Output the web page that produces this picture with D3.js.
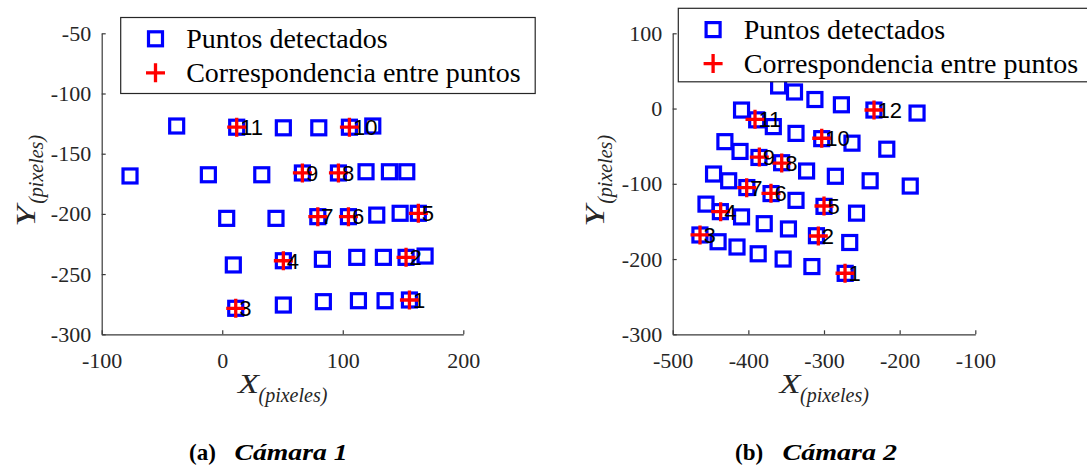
<!DOCTYPE html>
<html>
<head>
<meta charset="utf-8">
<script src="https://cdn.jsdelivr.net/npm/d3@7/dist/d3.min.js"></script>
<style>
  body { margin: 0; background: #fff; }
  svg { display: block; }
</style>
</head>
<body>
<svg id="chart" width="1087" height="469"></svg>
<script>
// ---------------- DATA ----------------
// Cámara 1: detected points
const cam1PointsX = [-37.8, 12.0, 50.7, 80.1, 105.5, 124.9,
  -76.5, -11.5, 32.8, 66.5, 96.4, 119.3, 138.7, 153.1,
  3.7, 44.6, 79.3, 104.7, 128.2, 147.6, 162.7,
  9.2, 50.7, 83.1, 111.6, 133.7, 152.5, 168.3,
  11.2, 50.7, 83.9, 113.0, 135.1, 155.3];
const cam1PointsY = [-127, -128, -128.5, -128.5, -128, -127,
  -168.5, -167.5, -167.5, -166, -166, -165, -165, -165,
  -203.7, -203.7, -202.3, -202.3, -201, -199.5, -199.5,
  -242.4, -238.9, -237.7, -236.1, -236.1, -236.1, -235,
  -278.4, -275.7, -272.9, -272.1, -272.1, -271.5];
// Cámara 1: correspondences
const cam1MatchX = [155.3, 152.5, 11.2, 50.7, 162.7, 104.7, 79.3, 96.4, 66.5, 105.5, 12.0];
const cam1MatchY = [-271.5, -236.1, -278.4, -238.9, -199.5, -202.3, -202.3, -166, -166, -128, -128];
const cam1MatchLabels = ["1","2","3","4","5","6","7","8","9","10","11"];

// Cámara 2: detected points
const cam2PointsX = [-360, -339, -312, -277, -234, -177,
  -409, -389, -367, -337, -303, -263, -217,
  -431, -411, -386, -356, -323, -285, -239, -186,
  -446, -426, -402, -370, -337, -300, -257,
  -456, -437, -409, -379, -347, -310, -266,
  -464, -440, -415, -387, -354, -316, -272];
const cam2PointsY = [30, 22, 12, 5, -2, -6,
  -2, -15, -24, -33, -40, -46, -54,
  -44, -57, -65, -72, -83, -90, -96, -103,
  -87, -96, -105, -113, -122, -130, -139,
  -127, -137, -144, -153, -160, -169, -178,
  -168, -177, -184, -193, -200, -210, -219];
// Cámara 2: correspondences
const cam2MatchX = [-272.2, -307.5, -463.9, -436.6, -300, -370.1, -402.2, -355.9, -385.5, -303, -391.2, -233.9];
const cam2MatchY = [-218.9, -169.4, -168, -137.1, -129.5, -112.6, -105.2, -72.4, -64.5, -39.5, -14.3, -1.9];
const cam2MatchLabels = ["1","2","3","4","5","6","7","8","9","10","11","12"];

// Ticks
const cam1XTicks = [-100, 0, 100, 200];
const cam1XTickLabels = ["-100", "0", "100", "200"];
const cam1YTicks = [-300, -250, -200, -150, -100, -50];
const cam1YTickLabels = ["-300", "-250", "-200", "-150", "-100", "-50"];
const cam2XTicks = [-500, -400, -300, -200, -100];
const cam2XTickLabels = ["-500", "-400", "-300", "-200", "-100"];
const cam2YTicks = [-300, -200, -100, 0, 100];
const cam2YTickLabels = ["-300", "-200", "-100", "0", "100"];

const legendLabels = ["Puntos detectados", "Correspondencia entre puntos"];
const captionTags = ["(a)", "(b)"];
const captionTitles = ["Cámara 1", "Cámara 2"];

// ---------------- DRAW ----------------
const svg = d3.select("#chart");
svg.append("rect").attr("width", 1087).attr("height", 469).attr("fill", "#fff");

const SERIF = "'Liberation Serif','Times New Roman',serif";
const SANS = "'Liberation Sans',Arial,sans-serif";
const AXIS_COLOR = "#3a3a3a";
const BLUE = "#0000ff", RED = "#ff0000";
const SQ = 14, SQW = 3.2, PL = 9.5, PLW = 3.3;

function drawSquare(g, x, y) {
  g.append("rect").attr("x", x - SQ/2).attr("y", y - SQ/2)
    .attr("width", SQ).attr("height", SQ)
    .attr("fill", "none").attr("stroke", BLUE).attr("stroke-width", SQW);
}
function drawPlus(g, x, y) {
  g.append("path").attr("d", `M${x-PL},${y}H${x+PL}M${x},${y-PL}V${y+PL}`)
    .attr("fill", "none").attr("stroke", RED).attr("stroke-width", PLW);
}

function panel(cfg) {
  const x = d3.scaleLinear().domain(cfg.xDomain).range(cfg.xRange);
  const y = d3.scaleLinear().domain(cfg.yDomain).range(cfg.yRange);
  const g = svg.append("g");

  // axes
  const xAxis = d3.axisBottom(x).tickValues(cfg.xTicks)
    .tickFormat((d, i) => cfg.xTickLabels[i]).tickSizeInner(-4).tickSizeOuter(0).tickPadding(18);
  const yAxis = d3.axisLeft(y).tickValues(cfg.yTicks)
    .tickFormat((d, i) => cfg.yTickLabels[i]).tickSizeInner(-4).tickSizeOuter(0).tickPadding(10.5);
  const gx = g.append("g").attr("transform", `translate(0,${cfg.yRange[0]})`).call(xAxis);
  const gy = g.append("g").attr("transform", `translate(${cfg.xRange[0]},0)`).call(yAxis);
  [gx, gy].forEach(a => {
    a.attr("font-family", SERIF).attr("font-size", 22);
    a.selectAll("path, line").attr("stroke", AXIS_COLOR).attr("stroke-width", 1.2);
    a.selectAll("text").attr("fill", "#262626");
  });

  // data
  const marks = g.append("g");
  cfg.px.forEach((vx, i) => drawSquare(marks, x(vx), y(cfg.py[i])));
  cfg.mx.forEach((vx, i) => drawPlus(marks, x(vx), y(cfg.my[i])));
  cfg.mx.forEach((vx, i) => {
    marks.append("text").attr("x", x(vx) + 3.5).attr("y", y(cfg.my[i]) + 7.8)
      .attr("font-family", SANS).attr("font-size", 22).attr("fill", "#000")
      .text(cfg.labels[i]);
  });

  // x label
  const cx = (cfg.xRange[0] + cfg.xRange[1]) / 2;
  const xl = g.append("text").attr("font-family", SERIF).attr("font-style", "italic").attr("fill", "#262626");
  xl.append("tspan").attr("x", cx - 44.5).attr("y", 393.3).attr("font-size", 27)
    .attr("textLength", 21).attr("lengthAdjust", "spacingAndGlyphs").text("X");
  xl.append("tspan").attr("x", cx - 24).attr("y", 401.5).attr("font-size", 20).text("(pixeles)");

  // y label
  const cy = (cfg.yRange[0] + cfg.yRange[1]) / 2;
  const yl = g.append("text").attr("font-family", SERIF).attr("font-style", "italic").attr("fill", "#262626")
    .attr("transform", `translate(${cfg.yLabelX},${cy}) rotate(-90)`);
  yl.append("tspan").attr("x", -43).attr("y", 0).attr("font-size", 27)
    .attr("textLength", 21).attr("lengthAdjust", "spacingAndGlyphs").text("Y");
  yl.append("tspan").attr("x", -20).attr("y", 7.5).attr("font-size", 20).text("(pixeles)");

  // legend
  const lg = g.append("g");
  lg.append("rect").attr("x", cfg.leg.x).attr("y", cfg.leg.y).attr("width", cfg.leg.w).attr("height", cfg.leg.h)
    .attr("fill", "#fff").attr("stroke", "#262626").attr("stroke-width", 1.2);
  drawSquare(lg, cfg.leg.x + 34.8, cfg.leg.y + 21.3);
  drawPlus(lg, cfg.leg.x + 34.8, cfg.leg.y + 55.3);
  legendLabels.forEach((t, i) => {
    lg.append("text").attr("x", cfg.leg.x + 65.5).attr("y", cfg.leg.y + 30.5 + i * 33.8)
      .attr("font-family", SERIF).attr("font-size", 28).attr("fill", "#000").text(t);
  });

  // caption
  g.append("text").attr("x", cfg.cap.x1).attr("y", 460).attr("font-family", SERIF)
    .attr("font-weight", "bold").attr("font-size", 23).attr("fill", "#000").text(cfg.cap.tag);
  g.append("text").attr("x", cfg.cap.x2).attr("y", 460).attr("font-family", SERIF)
    .attr("font-weight", "bold").attr("font-style", "italic").attr("font-size", 23).attr("fill", "#000")
    .attr("textLength", cfg.cap.len).attr("lengthAdjust", "spacingAndGlyphs").text(cfg.cap.title);
}

panel({
  xDomain: [-100, 200], xRange: [101.7, 463.3],
  yDomain: [-300, -50], yRange: [334.3, 33.3],
  xTicks: cam1XTicks, xTickLabels: cam1XTickLabels,
  yTicks: cam1YTicks, yTickLabels: cam1YTickLabels,
  px: cam1PointsX, py: cam1PointsY, mx: cam1MatchX, my: cam1MatchY, labels: cam1MatchLabels,
  yLabelX: 35,
  leg: { x: 120.7, y: 17.5, w: 414.5, h: 76 },
  cap: { x1: 189, x2: 234.5, tag: captionTags[0], title: captionTitles[0], len: 113 }
});

panel({
  xDomain: [-500, -100], xRange: [672.7, 975.3],
  yDomain: [-300, 100], yRange: [334.3, 33.3],
  xTicks: cam2XTicks, xTickLabels: cam2XTickLabels,
  yTicks: cam2YTicks, yTickLabels: cam2YTickLabels,
  px: cam2PointsX, py: cam2PointsY, mx: cam2MatchX, my: cam2MatchY, labels: cam2MatchLabels,
  yLabelX: 604,
  leg: { x: 678.3, y: 8.3, w: 412, h: 73.5 },
  cap: { x1: 735, x2: 782.5, tag: captionTags[1], title: captionTitles[1], len: 114.5 }
});
</script>
</body>
</html>
